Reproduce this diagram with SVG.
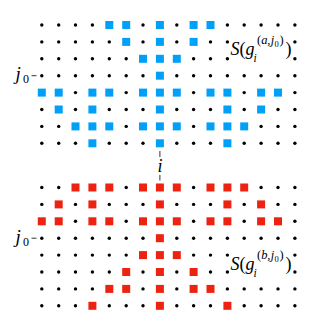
<svg xmlns="http://www.w3.org/2000/svg" xmlns:xlink="http://www.w3.org/1999/xlink" width="333" height="327" viewBox="0 0 333 327">
<style>
text{font-family:"Liberation Serif","Times New Roman",serif;fill:#000}
.it{font-style:italic}
.tick{stroke:#000;stroke-width:0.8;fill:none}
</style>
<defs>
<circle id="d" r="1.7" fill="#000"/>
<rect id="s" x="-4" y="-4" width="8" height="8"/>
<g id="r0"><use href="#d" x="41.8"/><use href="#d" x="58.7"/><use href="#d" x="75.5"/><use href="#d" x="92.4"/><use href="#d" x="143.0"/><use href="#d" x="176.8"/><use href="#d" x="227.4"/><use href="#d" x="244.2"/><use href="#d" x="261.1"/><use href="#d" x="278.0"/><use href="#d" x="294.9"/><use href="#s" x="109.3"/><use href="#s" x="126.2"/><use href="#s" x="159.9"/><use href="#s" x="193.6"/><use href="#s" x="210.5"/></g>
<g id="r1"><use href="#d" x="41.8"/><use href="#d" x="58.7"/><use href="#d" x="75.5"/><use href="#d" x="92.4"/><use href="#d" x="109.3"/><use href="#d" x="143.0"/><use href="#d" x="176.8"/><use href="#d" x="210.5"/><use href="#d" x="227.4"/><use href="#d" x="294.9"/><use href="#s" x="126.2"/><use href="#s" x="159.9"/><use href="#s" x="193.6"/></g>
<g id="r2"><use href="#d" x="41.8"/><use href="#d" x="58.7"/><use href="#d" x="75.5"/><use href="#d" x="92.4"/><use href="#d" x="109.3"/><use href="#d" x="126.2"/><use href="#d" x="193.6"/><use href="#d" x="210.5"/><use href="#d" x="227.4"/><use href="#d" x="294.9"/><use href="#s" x="143.0"/><use href="#s" x="159.9"/><use href="#s" x="176.8"/></g>
<g id="r3"><use href="#d" x="41.8"/><use href="#d" x="58.7"/><use href="#d" x="75.5"/><use href="#d" x="92.4"/><use href="#d" x="109.3"/><use href="#d" x="126.2"/><use href="#d" x="143.0"/><use href="#d" x="176.8"/><use href="#d" x="193.6"/><use href="#d" x="210.5"/><use href="#d" x="227.4"/><use href="#d" x="244.2"/><use href="#d" x="261.1"/><use href="#d" x="278.0"/><use href="#d" x="294.9"/><use href="#s" x="159.9"/></g>
<g id="r4"><use href="#d" x="75.5"/><use href="#d" x="126.2"/><use href="#d" x="193.6"/><use href="#d" x="244.2"/><use href="#d" x="294.9"/><use href="#s" x="41.8"/><use href="#s" x="58.7"/><use href="#s" x="92.4"/><use href="#s" x="109.3"/><use href="#s" x="143.0"/><use href="#s" x="159.9"/><use href="#s" x="176.8"/><use href="#s" x="210.5"/><use href="#s" x="227.4"/><use href="#s" x="261.1"/><use href="#s" x="278.0"/></g>
<g id="r5"><use href="#d" x="41.8"/><use href="#d" x="75.5"/><use href="#d" x="109.3"/><use href="#d" x="126.2"/><use href="#d" x="143.0"/><use href="#d" x="176.8"/><use href="#d" x="193.6"/><use href="#d" x="210.5"/><use href="#d" x="244.2"/><use href="#d" x="278.0"/><use href="#d" x="294.9"/><use href="#s" x="58.7"/><use href="#s" x="92.4"/><use href="#s" x="159.9"/><use href="#s" x="227.4"/><use href="#s" x="261.1"/></g>
<g id="r6"><use href="#d" x="41.8"/><use href="#d" x="58.7"/><use href="#d" x="126.2"/><use href="#d" x="193.6"/><use href="#d" x="261.1"/><use href="#d" x="278.0"/><use href="#d" x="294.9"/><use href="#s" x="75.5"/><use href="#s" x="92.4"/><use href="#s" x="109.3"/><use href="#s" x="143.0"/><use href="#s" x="159.9"/><use href="#s" x="176.8"/><use href="#s" x="210.5"/><use href="#s" x="227.4"/><use href="#s" x="244.2"/></g>
<g id="r7"><use href="#d" x="41.8"/><use href="#d" x="58.7"/><use href="#d" x="75.5"/><use href="#d" x="109.3"/><use href="#d" x="126.2"/><use href="#d" x="143.0"/><use href="#d" x="176.8"/><use href="#d" x="193.6"/><use href="#d" x="210.5"/><use href="#d" x="244.2"/><use href="#d" x="261.1"/><use href="#d" x="278.0"/><use href="#d" x="294.9"/><use href="#s" x="92.4"/><use href="#s" x="159.9"/><use href="#s" x="227.4"/></g>
</defs>
<rect width="333" height="327" fill="#fff"/>
<g id="top-grid" fill="#00A0F8">
<use href="#r0" y="25.0"/><use href="#r1" y="41.9"/><use href="#r2" y="58.8"/><use href="#r3" y="75.7"/><use href="#r4" y="92.6"/><use href="#r5" y="109.5"/><use href="#r6" y="126.4"/><use href="#r7" y="143.3"/>
</g>
<g id="bottom-grid" fill="#EE2211">
<use href="#r6" y="187.5"/><use href="#r5" y="204.4"/><use href="#r4" y="221.3"/><use href="#r3" y="238.2"/><use href="#r2" y="255.1"/><use href="#r1" y="272.0"/><use href="#r0" y="288.9"/><use href="#r7" y="305.8"/>
</g>
<g id="ticks">
<path class="tick" d="M31.5 75.7H36.5M31.5 238.2H36.5M159.9 151V157M159.9 175V180.5"/>
</g>
<g id="label-i"><text class="it" x="159.9" y="172" font-size="18" text-anchor="middle">i</text></g>
<g id="label-j0-top"><text y="80" font-size="19"><tspan class="it" x="15.5">j</tspan><tspan x="23" y="83" font-size="12">0</tspan></text></g>
<g id="label-j0-bottom"><text y="242.5" font-size="19"><tspan class="it" x="15.5">j</tspan><tspan x="23" y="245.5" font-size="12">0</tspan></text></g>
<g id="label-a">
<text font-size="18" y="55"><tspan class="it" x="230.5">S</tspan><tspan x="239.5">(</tspan><tspan class="it" x="245.5">g</tspan><tspan x="285.5">)</tspan></text>
<text class="it" font-size="11.5" x="253.5" y="61.5">i</text>
<text font-size="12.5" y="44"><tspan x="257">(</tspan><tspan class="it" x="261.2">a</tspan><tspan x="267.3">,</tspan><tspan class="it" x="270.7">j</tspan><tspan x="274.6" y="46.5" font-size="8.5">0</tspan><tspan x="279.6" y="44">)</tspan></text>
</g>
<g id="label-b">
<text font-size="18" y="270"><tspan class="it" x="230.5">S</tspan><tspan x="239.5">(</tspan><tspan class="it" x="245.5">g</tspan><tspan x="285.5">)</tspan></text>
<text class="it" font-size="11.5" x="253.5" y="276.5">i</text>
<text font-size="12.5" y="259"><tspan x="257">(</tspan><tspan class="it" x="261.2">b</tspan><tspan x="267.3">,</tspan><tspan class="it" x="270.7">j</tspan><tspan x="274.6" y="261.5" font-size="8.5">0</tspan><tspan x="279.6" y="259">)</tspan></text>
</g>
</svg>
